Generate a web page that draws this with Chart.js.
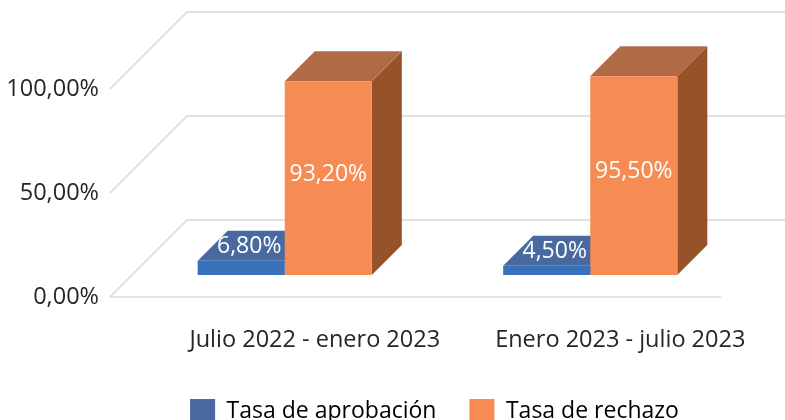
<!DOCTYPE html>
<html>
<head>
<meta charset="utf-8">
<script src="https://cdn.jsdelivr.net/npm/chart.js@4.4.0/dist/chart.umd.min.js"></script>
<style>
html, body { margin: 0; padding: 0; background: #fff; }
</style>
</head>
<body>
<canvas id="mycanvas" width="785" height="420"></canvas>
<script>
var periodos = ['Julio 2022 - enero 2023', 'Enero 2023 - julio 2023'];
var aprobacion = [6.8, 4.5];
var rechazo = [93.2, 95.5];
var ticksY = [0, 50, 100];

var DEPTH = 30, BACK = 55, FRONT = 22;
var caras = [
	{ front: '#3871b9', top: '#4a69a0', side: '#2f5a95', legend: '#4a69a0' },
	{ front: '#f68b53', top: '#b06a46', side: '#965228', legend: '#f68b53' }
];

function fmt(v) {
	return v.toFixed(2).replace('.', ',') + '%';
}

Chart.defaults.font.family = '"Open Sans", sans-serif';

var box3d = {
	id: 'box3d',
	afterLayout: function(chart) {
		// la leyenda va centrada bajo el área del gráfico
		chart.legend.left = 126;
	},
	beforeDatasetsDraw: function(chart) {
		var ctx = chart.ctx, a = chart.chartArea, y = chart.scales.y;
		ctx.save();
		ctx.strokeStyle = '#d9d9d9';
		ctx.lineWidth = 1.5;
		ticksY.forEach(function(v) {
			var py = y.getPixelForValue(v);
			ctx.beginPath();
			ctx.moveTo(a.left - FRONT, py + FRONT);
			ctx.lineTo(a.left + BACK, py - BACK);
			ctx.lineTo(a.right + BACK, py - BACK);
			ctx.stroke();
		});
		// borde delantero del suelo
		var p0 = y.getPixelForValue(0);
		ctx.beginPath();
		ctx.moveTo(a.left - FRONT, p0 + FRONT);
		ctx.lineTo(a.right - FRONT, p0 + FRONT);
		ctx.stroke();

		chart.data.datasets.forEach(function(ds, i) {
			chart.getDatasetMeta(i).data.forEach(function(bar) {
				var x1 = bar.x - bar.width / 2, x2 = bar.x + bar.width / 2, t = bar.y, b = bar.base;
				ctx.fillStyle = caras[i].side;
				ctx.beginPath();
				ctx.moveTo(x2, t);
				ctx.lineTo(x2 + DEPTH, t - DEPTH);
				ctx.lineTo(x2 + DEPTH, b - DEPTH);
				ctx.lineTo(x2, b);
				ctx.closePath();
				ctx.fill();
				ctx.fillStyle = caras[i].top;
				ctx.beginPath();
				ctx.moveTo(x1, t);
				ctx.lineTo(x1 + DEPTH, t - DEPTH);
				ctx.lineTo(x2 + DEPTH, t - DEPTH);
				ctx.lineTo(x2, t);
				ctx.closePath();
				ctx.fill();
			});
		});
		ctx.restore();
	},
	afterDatasetsDraw: function(chart) {
		var ctx = chart.ctx;
		ctx.save();
		ctx.font = '23px "Open Sans"';
		ctx.fillStyle = '#ffffff';
		ctx.textAlign = 'center';
		ctx.textBaseline = 'middle';
		chart.data.datasets.forEach(function(ds, i) {
			chart.getDatasetMeta(i).data.forEach(function(bar, j) {
				var tx, ty;
				if (bar.base - bar.y < 30) {
					tx = bar.x + 8;
					ty = bar.y - 14;
				} else {
					tx = bar.x;
					ty = (bar.y + bar.base) / 2 - 4;
				}
				ctx.fillText(fmt(ds.data[j]), tx, ty);
			});
		});
		ctx.restore();
	}
};

var ctx = document.getElementById('mycanvas');

var chart = new Chart(ctx, {
	type: 'bar',
	data: {
		labels: periodos,
		datasets: [
			{
				label: 'Tasa de aprobación',
				data: aprobacion,
				backgroundColor: caras[0].front,
				borderWidth: 0,
				categoryPercentage: 0.57,
				barPercentage: 1.0
			},
			{
				label: 'Tasa de rechazo',
				data: rechazo,
				backgroundColor: caras[1].front,
				borderWidth: 0,
				categoryPercentage: 0.57,
				barPercentage: 1.0
			}
		]
	},
	options: {
		responsive: false,
		animation: false,
		layout: { padding: { top: 67, left: 0, right: 42, bottom: 0 } },
		plugins: {
			tooltip: { enabled: false },
			legend: {
				position: 'bottom',
				maxHeight: 54,
				labels: {
					boxWidth: 25,
					boxHeight: 25,
					padding: 33,
					color: '#262626',
					font: { size: 23 },
					generateLabels: function(chart) {
						return chart.data.datasets.map(function(ds, i) {
							return {
								text: ds.label,
								fillStyle: caras[i].legend,
								strokeStyle: caras[i].legend,
								lineWidth: 0,
								datasetIndex: i
							};
						});
					}
				}
			}
		},
		scales: {
			x: {
				grid: { display: false },
				border: { display: false },
				ticks: {
					color: '#262626',
					font: { size: 23.5 },
					padding: 43,
					labelOffset: 30,
					maxRotation: 0,
					autoSkip: false
				},
				afterFit: function(s) { s.height = 91; }
			},
			y: {
				min: 0,
				max: 100,
				grid: { display: false },
				border: { display: false },
				ticks: {
					stepSize: 50,
					color: '#262626',
					font: { size: 23.5 },
					padding: 25,
					labelOffset: 22,
					callback: function(v) { return fmt(v); }
				},
				afterFit: function(s) { s.width = 132; }
			}
		}
	},
	plugins: [box3d]
});
</script>
</body>
</html>
